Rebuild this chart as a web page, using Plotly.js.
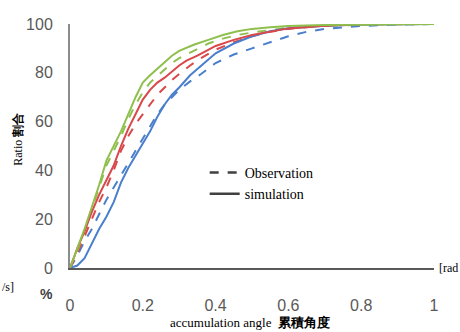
<!DOCTYPE html>
<html><head><meta charset="utf-8">
<script src="https://cdn.plot.ly/plotly-3.0.1.min.js"></script>
<style>body{margin:0;background:#fff}#c{width:460px;height:332px}</style>
</head><body><div id="c"></div>
<script>
var xGS=[0,0.02,0.04,0.06,0.08,0.10,0.12,0.14,0.16,0.18,0.20,0.22,0.25,0.28,0.30,0.34,0.38,0.42,0.46,0.50,0.55,0.60,0.70,0.80,0.90,1];
var yGS=[0,8,16,25,34,44,50,56,63,70,76,79,83,87,89,91.5,93.5,95.5,97,98,98.7,99.2,99.6,99.8,100,100];
var xGD=[0,0.02,0.04,0.06,0.08,0.10,0.12,0.14,0.16,0.18,0.20,0.22,0.25,0.28,0.30,0.34,0.38,0.42,0.46,0.50,0.55,0.60,0.70,0.80,0.90,1];
var yGD=[0,7,15,24,33,42,48,54,61,67,72,76,80,84,86,89,92,94,95.5,96.5,97.5,98.5,99.3,99.7,100,100];
var xRS=[0,0.02,0.04,0.06,0.08,0.10,0.12,0.14,0.16,0.18,0.20,0.22,0.24,0.26,0.28,0.30,0.32,0.35,0.40,0.45,0.50,0.55,0.60,0.70,0.80,1];
var yRS=[0,8,15,23,30,36,42,50,57,63,69,73,76,78,80.5,83,85,87,91,93.5,95.5,97,98.2,99.3,100,100];
var xRD=[0,0.02,0.04,0.06,0.08,0.10,0.12,0.14,0.16,0.18,0.20,0.22,0.24,0.26,0.28,0.30,0.33,0.36,0.40,0.45,0.50,0.55,0.60,0.70,0.80,1];
var yRD=[0,6,13,20,27,33,40,48,54,59,63,67,71,74,77,79.5,83,86,89.5,92.5,95,96.8,98,99.3,99.8,100];
var xBS=[0,0.02,0.04,0.06,0.08,0.10,0.12,0.14,0.16,0.18,0.20,0.22,0.24,0.26,0.28,0.30,0.33,0.36,0.40,0.45,0.50,0.55,0.60,0.70,0.80,1];
var yBS=[0,1,4,10,16,21,27,35,41,46,51,56,62,67,71,74,79,83,88,92,95,97,98.3,99.3,99.8,100];
var xBD=[0,0.02,0.04,0.06,0.08,0.10,0.12,0.14,0.16,0.18,0.20,0.22,0.24,0.26,0.28,0.30,0.33,0.36,0.40,0.45,0.50,0.55,0.60,0.65,0.70,0.80,0.90,1];
var yBD=[0,5,11,16,22,28,33,38,43,48,53,58,63,67,70,73,76.5,79.5,84,87.5,90,92.5,95,96.8,98,99.2,99.8,100];
var xTicks=[0,0.2,0.4,0.6,0.8,1];
var xTickText=["0","0.2","0.4","0.6","0.8","1"];
var yTicks=[0,20,40,60,80,100];

var BLUE="#4a7fcc", RED="#d9484a", GREEN="#8fbf4d";
function tr(x,y,c,d){return {x:x,y:y,mode:"lines",line:{color:c,width:2,dash:d},showlegend:false,hoverinfo:"skip"};}
var data=[
 tr(xBD,yBD,BLUE,"dash"), tr(xRD,yRD,RED,"dash"), tr(xGD,yGD,GREEN,"dash"),
 tr(xBS,yBS,BLUE,"solid"), tr(xRS,yRS,RED,"solid"), tr(xGS,yGS,GREEN,"solid"),
 {x:[null],y:[null],mode:"lines",name:"Observation",line:{color:"#404040",width:2.5,dash:"dash"}},
 {x:[null],y:[null],mode:"lines",name:"simulation",line:{color:"#404040",width:2.5}}
];
var serif="Liberation Serif, Times New Roman, serif";
var layout={
 width:460,height:332,margin:{l:70,r:26,t:24,b:64},
 paper_bgcolor:"#fff",plot_bgcolor:"#fff",
 xaxis:{range:[0,1],tickvals:xTicks,ticktext:xTickText,showgrid:false,zeroline:false,
   showline:true,linecolor:"#595959",linewidth:1.5,ticks:"",ticklabelstandoff:22,
   tickfont:{family:"Liberation Sans, Arial",size:16,color:"#595959"}},
 yaxis:{range:[0,100],tickvals:yTicks,showgrid:false,zeroline:false,
   showline:true,linecolor:"#8c8c8c",linewidth:2,ticks:"",ticklabelstandoff:12,
   tickfont:{family:"Liberation Sans, Arial",size:16,color:"#595959"}},
 legend:{x:0.37,y:0.455,xanchor:"left",yanchor:"top",bgcolor:"rgba(0,0,0,0)",
   font:{family:serif,size:14,color:"#000"},tracegroupgap:0,itemwidth:30},
 annotations:[
  {xref:"paper",yref:"paper",x:-0.14,y:0.53,text:"Ratio <b>割合</b>",textangle:-90,showarrow:false,
   font:{family:serif,size:12,color:"#000"},xanchor:"center",yanchor:"middle",xshift:-1},
  {xref:"paper",yref:"paper",x:0.5,y:0,yshift:-54,text:"accumulation angle  <b>累積角度</b>",showarrow:false,
   font:{family:serif,size:13,color:"#000"},xanchor:"center",yanchor:"middle",xshift:-2},
  {xref:"paper",yref:"paper",x:0,y:0,xshift:-32,yshift:-16,text:"<b>%</b>",showarrow:false,
   font:{family:"Liberation Sans, Arial",size:14,color:"#404040"},yanchor:"top"},
  {xref:"paper",yref:"paper",x:0,y:0,xshift:-70,yshift:-10,text:"/s]",showarrow:false,yanchor:"top",
   font:{family:serif,size:12,color:"#000"}},
  {xref:"paper",yref:"paper",x:1,y:0,xshift:3,text:"[rad",showarrow:false,xanchor:"left",yanchor:"middle",
   font:{family:serif,size:12,color:"#000"}}
 ]
};
Plotly.newPlot("c",data,layout,{displayModeBar:false,staticPlot:true});
</script></body></html>
